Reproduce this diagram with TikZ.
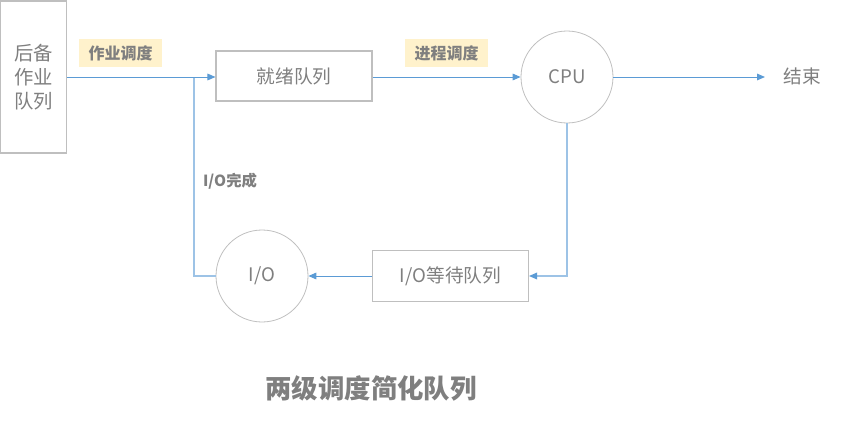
\documentclass[tikz,border=0pt]{standalone}
\usepackage{fontspec}
\setmainfont{Noto Sans CJK SC}
\usetikzlibrary{arrows.meta}
\definecolor{txt}{HTML}{7F7F7F}
\definecolor{bord}{HTML}{BFBFBF}
\definecolor{arr}{HTML}{5B9BD5}
\definecolor{arrlt}{HTML}{9DC3E6}
\definecolor{lab}{HTML}{FFF2CC}
\begin{document}
\begin{tikzpicture}[x=0.75pt,y=-0.75pt,
  boxq/.style={draw=bord,line width=0.8pt,text=txt,font=\fontsize{14}{17}\selectfont,inner sep=0pt},
  circq/.style={draw=bord,line width=0.6pt,circle,minimum size=69pt,text=txt,font=\fontsize{14}{17}\selectfont,inner sep=0pt},
  labq/.style={fill=lab,text=txt,font=\fontsize{12}{14}\bfseries\selectfont,minimum width=62pt,minimum height=21pt,inner sep=0pt},
  tipq/.style={-{Triangle[length=6pt,width=5pt,color=arr]}},
  conn/.style={draw=arr,line width=0.75pt,tipq},
  connlt/.style={draw=arrlt,line width=0.9pt}
]
\useasboundingbox (0,0) rectangle (844,421);
\node[boxq,minimum width=49.5pt,minimum height=114pt,align=center,font=\fontsize{14.5}{18}\selectfont] (back) at (33.75,77) {后备\\作业\\队列};
\node[boxq,minimum width=117pt,minimum height=37.5pt] (ready) at (294,76) {就绪队列};
\node[circq] (cpu) at (567,77) {CPU};
\node[text=txt,font=\fontsize{14}{17}\selectfont,inner sep=0pt] (end) at (802,76) {结束};
\node[boxq,minimum width=117pt,minimum height=38pt] (wait) at (450.5,276) {I/O等待队列};
\node[circq] (io) at (262,276) {I/O};
\node[labq] (l1) at (120.5,53) {作业调度};
\node[labq] (l2) at (446.5,53) {进程调度};
\node[text=txt,font=\fontsize{11.5}{13}\bfseries\selectfont,inner sep=0pt] (l3) at (230,181) {I/O完成};
\node[text=txt,font=\fontsize{19.8}{22}\bfseries\selectfont,inner sep=0pt] (title) at (371,388) {两级调度简化队列};
\coordinate (j) at (194,77);
\coordinate (jb) at (194,276);
\coordinate (cb) at (567,276);
\coordinate (endp) at (765,77);
% connectors
\draw[connlt] (io.west) -- (jb) -- (j);
\draw[connlt,tipq] (cpu.south) -- (cb) -- (wait.east);
\draw[conn] (back.east |- j) -- (ready.west |- j);
\draw[conn] (ready.east |- cpu.west) -- (cpu.west);
\draw[conn] (cpu.east) -- (endp);
\draw[conn] (wait.west) -- (io.east);
\end{tikzpicture}
\end{document}
